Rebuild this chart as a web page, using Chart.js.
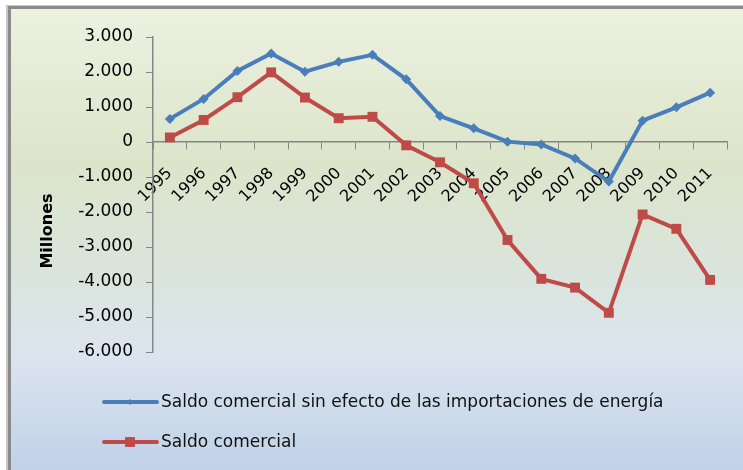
<!DOCTYPE html>
<html>
<head>
<meta charset="utf-8">
<script src="https://cdn.jsdelivr.net/npm/chart.js@4/dist/chart.umd.min.js"></script>
<style>
  html, body { margin: 0; padding: 0; background: #fff; }
  #wrap { width: 743px; height: 470px; }
</style>
</head>
<body>
<div id="wrap"><canvas id="chart" width="743" height="470"></canvas></div>
<script>
// Years on the x axis
const years = ["1995", "1996", "1997", "1998", "1999", "2000", "2001", "2002", "2003",
  "2004", "2005", "2006", "2007", "2008", "2009", "2010", "2011"];

// Series values (millones)
const sinEnergia = [660, 1230, 2030, 2530, 2010, 2290, 2490, 1790, 740,
  390, 10, -70, -470, -1130, 610, 990, 1410];
const saldoComercial = [130, 630, 1280, 1990, 1270, 680, 720, -95, -580,
  -1180, -2800, -3910, -4160, -4880, -2070, -2480, -3940];

const seriesNames = [
  "Saldo comercial sin efecto de las importaciones de energía",
  "Saldo comercial",
];
const yTitle = "Millones";

const blue = "#4a7ebb";
const red = "#be4b48";
const axisGrey = "#868686";

// Format 3000 -> 3.000 (Spanish thousands separator)
function fmt(v) {
  const s = Math.abs(v).toString().replace(/\B(?=(\d{3})+(?!\d))/g, ".");
  return (v < 0 ? "-" : "") + s;
}

// Background frame, gradient fill, axis title and legend
const decor = {
  id: "decor",
  beforeDraw(chart) {
    const ctx = chart.ctx;
    const w = chart.width, h = chart.height;
    ctx.save();
    ctx.fillStyle = "#ffffff";
    ctx.fillRect(0, 0, w, h);
    ctx.fillStyle = "#c8c8c8";
    ctx.fillRect(6, 5, w - 6, h - 5);
    ctx.fillStyle = "#8a8a8a";
    ctx.fillRect(8, 6, w - 8, h - 6);
    const g = ctx.createLinearGradient(0, 9, 0, h);
    g.addColorStop(0, "#ecf1e0");
    g.addColorStop(0.33, "#dce5ca");
    g.addColorStop(0.55, "#dae4da");
    g.addColorStop(0.75, "#dce5ef");
    g.addColorStop(1, "#c1d1e8");
    ctx.fillStyle = g;
    ctx.fillRect(11, 9, w - 11, h - 9);
    ctx.restore();
  },
  afterDraw(chart) {
    const ctx = chart.ctx;
    ctx.save();
    // y axis title
    ctx.translate(48, 231);
    ctx.rotate(-Math.PI / 2);
    ctx.font = "bold 16px 'DejaVu Sans'";
    ctx.fillStyle = "#000";
    ctx.textAlign = "center";
    ctx.textBaseline = "middle";
    ctx.fillText(yTitle, 0, 0);
    ctx.restore();

    // legend
    const rows = [402, 442];
    chart.data.datasets.forEach((ds, i) => {
      const y = rows[i];
      ctx.save();
      ctx.strokeStyle = ds.borderColor;
      ctx.fillStyle = ds.borderColor;
      ctx.lineWidth = 4;
      ctx.lineCap = "round";
      ctx.beginPath();
      ctx.moveTo(104, y);
      ctx.lineTo(157, y);
      ctx.stroke();
      ctx.lineWidth = 0.01;
      Chart.helpers.drawPoint(ctx, {
        pointStyle: ds.pointStyle,
        radius: i === 0 ? 3 : ds.pointRadius,
        borderWidth: 0,
        rotation: 0,
      }, 130, y);
      ctx.restore();
      ctx.save();
      ctx.font = "17px 'DejaVu Sans'";
      ctx.fillStyle = "#111";
      ctx.textBaseline = "middle";
      ctx.fillText(ds.label, 161, y + 1);
      ctx.restore();
    });
  },
};

const ctx = document.getElementById("chart").getContext("2d");
new Chart(ctx, {
  type: "line",
  data: {
    labels: years,
    datasets: [
      {
        label: seriesNames[0],
        data: sinEnergia,
        borderColor: blue,
        backgroundColor: blue,
        borderWidth: 4,
        pointStyle: "rectRot",
        pointRadius: 5,
        pointBorderWidth: 0,
        tension: 0,
      },
      {
        label: seriesNames[1],
        data: saldoComercial,
        borderColor: red,
        backgroundColor: red,
        borderWidth: 4,
        pointStyle: "rect",
        pointRadius: 7,
        pointBorderWidth: 0,
        tension: 0,
      },
    ],
  },
  options: {
    responsive: false,
    animation: false,
    layout: { padding: { left: 10, right: 16, top: 37, bottom: 118 } },
    plugins: {
      legend: { display: false },
      tooltip: { enabled: false },
    },
    scales: {
      x: {
        position: { y: 0 },
        offset: true,
        grid: {
          offset: true,
          drawOnChartArea: false,
          drawTicks: true,
          tickLength: 7,
          color: axisGrey,
        },
        border: { color: axisGrey, width: 1.5 },
        ticks: {
          minRotation: 45,
          maxRotation: 45,
          autoSkip: false,
          padding: 15,
          color: "#000",
          font: { family: "DejaVu Sans", size: 16 },
        },
      },
      y: {
        min: -6000,
        max: 3000,
        afterFit(scale) {
          scale.width = 143;
        },
        grid: {
          drawOnChartArea: false,
          drawTicks: true,
          tickLength: 7,
          color: axisGrey,
        },
        border: { color: axisGrey, width: 1.5 },
        ticks: {
          stepSize: 1000,
          padding: 13,
          color: "#000",
          font: { family: "DejaVu Sans", size: 17 },
          callback: (v) => fmt(v),
        },
      },
    },
  },
  plugins: [decor],
});
</script>
</body>
</html>
